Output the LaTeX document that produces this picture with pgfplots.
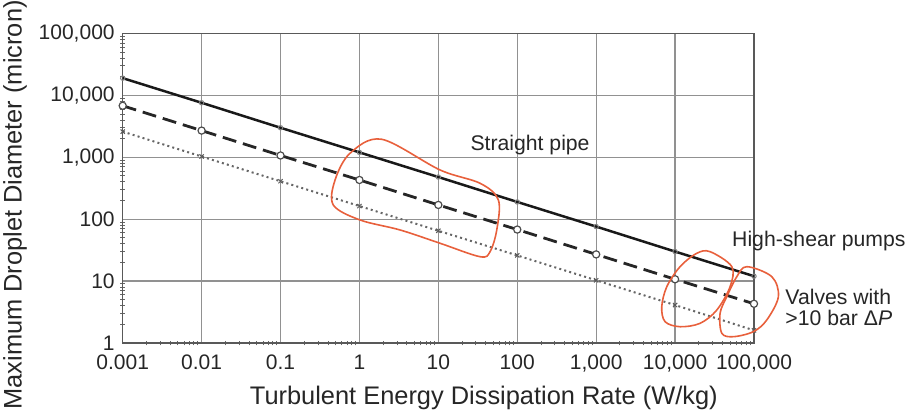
\documentclass[border=0pt]{standalone}
\usepackage{pgfplots}
\pgfplotsset{compat=1.18}
\usepackage{fontspec}
\setmainfont{Liberation Sans}
\definecolor{loopred}{RGB}{232,96,60}
\definecolor{gridgray}{RGB}{145,145,145}
\begin{document}
\begin{tikzpicture}
\begin{axis}[
  name=main, scale only axis, width=315.65pt, height=154.75pt,
  xmode=log, ymode=log,
  xmin=0.001, xmax=100000, ymin=1, ymax=100000,
  xtick={1e-3,1e-2,0.1,1,10,100,1000,10000,100000},
  xticklabels={0.001,0.01,0.1,1,10,100,{1,000},{10,000},{100,000}},
  ytick={1,10,100,1000,10000,100000},
  yticklabels={1,10,100,{1,000},{10,000},{100,000}},
  minor xtick={2e-3,3e-3,4e-3,5e-3,6e-3,7e-3,8e-3,9e-3,
    2e-2,3e-2,4e-2,5e-2,6e-2,7e-2,8e-2,9e-2,
    0.2,0.3,0.4,0.5,0.6,0.7,0.8,0.9,2,3,4,5,6,7,8,9,
    20,30,40,50,60,70,80,90,200,300,400,500,600,700,800,900,
    2000,3000,4000,5000,6000,7000,8000,9000,
    20000,30000,40000,50000,60000,70000,80000,90000},
  minor ytick={2,3,4,5,6,7,8,9,20,30,40,50,60,70,80,90,
    200,300,400,500,600,700,800,900,2000,3000,4000,5000,6000,7000,8000,9000,
    20000,30000,40000,50000,60000,70000,80000,90000},
  xtick pos=left, ytick pos=left,
  major tick length=0pt, minor tick length=2.5pt, tick align=center,
  minor tick style={gray!80!black, line width=0.5pt},
  grid=major, major grid style={gridgray, line width=0.6pt},
  axis line style={gray!70!black, line width=0.7pt},
  ticklabel style={font=\fontsize{10.5}{12}\selectfont, text=black!85},
  xticklabel style={yshift=-2.5pt},
  yticklabel style={xshift=-0.5pt},
  xlabel={Turbulent Energy Dissipation Rate (W/kg)},
  ylabel={Maximum Droplet Diameter (micron)},
  label style={font=\fontsize{12.7}{14}\selectfont, text=black!85},
  xlabel style={at={(axis description cs:0.572,-0.178)}, anchor=center},
  ylabel style={at={(axis description cs:-0.1706,0.446)}, anchor=center, rotate=0},
]
% straight pipe (solid)
\addplot[black!90, line width=1.25pt, mark=o, mark size=1.1pt,
  mark options={solid, draw=gray, line width=0.5pt, fill=white}] coordinates {
  (0.001,19000) (0.01,7600) (0.1,3000) (1,1200) (10,480)
  (100,190) (1000,76) (10000,30) (100000,12)};
% high-shear pumps (dashed)
\addplot[black!85, line width=1.4pt, dash pattern=on 7pt off 3.5pt,
  mark=*, mark size=1.8pt,
  mark options={solid, fill=white, draw=black!70, line width=0.6pt}] coordinates {
  (0.001,6800) (0.01,2700) (0.1,1070) (1,430) (10,170)
  (100,68) (1000,27) (10000,10.7) (100000,4.3)};
% valves (dotted)
\addplot[gray!80!black, line width=1pt, dash pattern=on 1pt off 1.6pt,
  mark=x, mark size=1.5pt,
  mark options={solid, draw=gray!70!black, line width=0.5pt}] coordinates {
  (0.001,2600) (0.01,1030) (0.1,410) (1,163) (10,65)
  (100,26) (1000,10.3) (10000,4.1) (100000,1.6)};
\end{axis}
\begin{axis}[
  scale only axis, width=315.65pt, height=154.75pt,
  xmin=-3, xmax=5, ymin=0, ymax=5, hide axis, clip=false,
]
\addplot[loopred, line width=0.8pt, smooth cycle, tension=0.55] coordinates {
  (0.283,3.291) (1.022,2.795) (1.529,2.58) (1.761,2.31) (1.740,1.826)
  (1.655,1.475) (1.529,1.394) (1.022,1.611) (0.515,1.826) (0.008,1.987)
  (-0.331,2.229) (-0.309,2.633) (-0.119,3.065)};
\addplot[loopred, line width=0.8pt, smooth cycle, tension=0.55] coordinates {
  (4.444,1.475) (4.719,1.233) (4.697,0.910) (4.529,0.533) (4.317,0.318)
  (4.063,0.263) (3.873,0.344) (3.831,0.586) (3.895,0.910) (4.063,1.233)
  (4.275,1.449)};
\addplot[loopred, line width=0.8pt, smooth cycle, tension=0.55] coordinates {
  (4.909,1.233) (5.226,1.071) (5.309,0.748) (5.162,0.372) (4.992,0.183)
  (4.739,0.102) (4.592,0.157) (4.570,0.480) (4.655,0.748) (4.782,1.071)};
\node[font=\fontsize{10.6}{12}\selectfont, text=black!85] at (axis cs:2.162,3.2) {Straight pipe};
\node[font=\fontsize{10.6}{12}\selectfont, text=black!85, anchor=west, inner sep=0pt] at (axis cs:4.719,1.653) {High-shear pumps};
\node[font=\fontsize{10.6}{12}\selectfont, text=black!85, anchor=west, inner sep=0pt] at (axis cs:5.394,0.748) {Valves with};
\node[font=\fontsize{10.6}{12}\selectfont, text=black!85, anchor=west, inner sep=0pt] at (axis cs:5.394,0.399) {>10 bar Δ\textit{P}};
\end{axis}
\pgfresetboundingbox
\path[use as bounding box] (-61.35pt,-34pt) rectangle (391.15pt,171.5pt);
\end{tikzpicture}
\end{document}
